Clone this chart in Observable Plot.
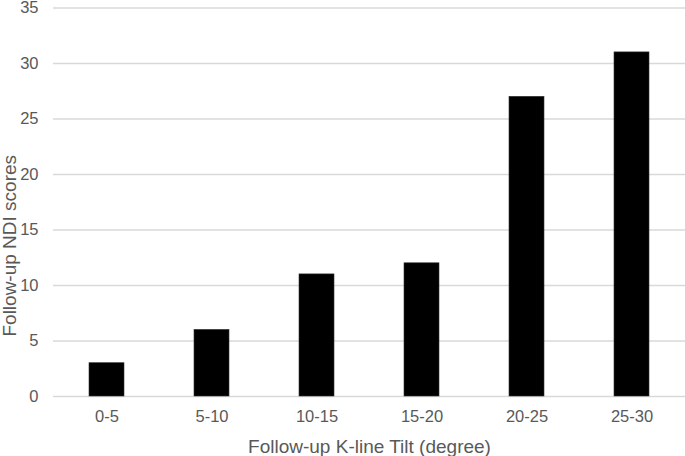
<!DOCTYPE html>
<html>
<head>
<meta charset="utf-8">
<script src="https://cdn.jsdelivr.net/npm/d3@7"></script>
<script src="https://cdn.jsdelivr.net/npm/@observablehq/plot@0.6"></script>
<style>
  html, body { margin: 0; padding: 0; background: #fff; }
  #chart svg { display: block; }
</style>
</head>
<body>
<div id="chart"></div>
<script>
const categories = ["0-5", "5-10", "10-15", "15-20", "20-25", "25-30"];
const values = [3, 6, 11, 12, 27, 31];
const yTicks = [0, 5, 10, 15, 20, 25, 30, 35];
const xTitle = "Follow-up K-line Tilt (degree)";
const yTitle = "Follow-up NDI scores";

const data = categories.map((c, i) => ({category: c, value: values[i]}));
const font = "'Liberation Sans', Arial, sans-serif";
const textColor = "#595959";

const chart = Plot.plot({
  width: 685,
  height: 456,
  marginTop: 7.5,
  marginBottom: 60,
  marginLeft: 53,
  marginRight: 0,
  style: {fontFamily: font, background: "#fff", overflow: "visible"},
  x: {domain: categories, paddingInner: 0.667, paddingOuter: 0.333, label: null},
  y: {domain: [0, 35], label: null},
  marks: [
    Plot.gridY(yTicks, {stroke: "#d9d9d9", strokeOpacity: 1, strokeWidth: 1.3}),
    Plot.barY(data, {x: "category", y: "value", fill: "#000", stroke: "#333", strokeWidth: 0.6}),
    Plot.axisY(yTicks, {tickSize: 0, tickPadding: 15, fontSize: 16.5, fill: textColor, label: null}),
    Plot.axisX({tickSize: 0, tickPadding: 14, fontSize: 16.5, fill: textColor, label: null}),
    Plot.text([xTitle], {frameAnchor: "bottom", dy: 50, text: d => d, fontSize: 19, fill: textColor, lineAnchor: "middle", textAnchor: "middle"}),
    Plot.text([yTitle], {frameAnchor: "left", dx: -44, dy: 43.5, rotate: -90, text: d => d, fontSize: 19, fill: textColor, lineAnchor: "middle", textAnchor: "middle"})
  ]
});
document.getElementById("chart").appendChild(chart);
</script>
</body>
</html>
